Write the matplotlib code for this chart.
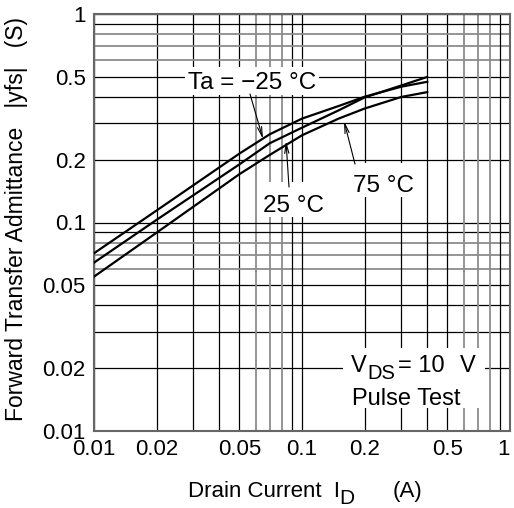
import matplotlib
matplotlib.use("Agg")
import matplotlib.pyplot as plt
from matplotlib.patches import Rectangle

plt.rcParams['font.family'] = ['Liberation Sans', 'DejaVu Sans']

# Data (drain current in A, |yfs| in S)
drain_current = [0.01, 0.02, 0.05, 0.07, 0.1, 0.15, 0.2, 0.3, 0.4]
yfs_m25 = [0.0712, 0.1142, 0.214, 0.265, 0.315, 0.362, 0.401, 0.448, 0.473]
yfs_25 = [0.0642, 0.103, 0.190, 0.240, 0.285, 0.345, 0.398, 0.454, 0.499]
yfs_75 = [0.0550, 0.0894, 0.1705, 0.211, 0.262, 0.315, 0.352, 0.400, 0.422]

tick_vals = [0.01, 0.02, 0.05, 0.1, 0.2, 0.5, 1]
tick_labels = ["0.01", "0.02", "0.05", "0.1", "0.2", "0.5", "1"]
grid_vals = [m * d for d in (0.01, 0.1) for m in range(1, 10)] + [1.0]

W, H = 514, 508
fig = plt.figure(figsize=(W / 100, H / 100), dpi=100)
ax = fig.add_axes([94 / W, 1 - 431 / H, 416 / W, 417 / H])
ax.set_xscale('log')
ax.set_yscale('log')
ax.set_xlim(0.01, 1)
ax.set_ylim(0.01, 1)


def px(x, y):
    return x / W, 1 - y / H


# grid: 6-8 multiples in gray, the rest black
for v in grid_vals:
    m = round(v / 10 ** int(f"{v:e}".split("e")[1]))
    col, lw = ('#8c8c8c', 1.3) if m in (6, 7, 8) else ('black', 0.9)
    ax.axvline(v, color=col, lw=lw, zorder=1)
    ax.axhline(v, color=col, lw=lw, zorder=1)

for s in ax.spines.values():
    s.set_color('#666666')
    s.set_linewidth(1.5)

ax.set_xticks(tick_vals)
ax.set_xticklabels(tick_labels)
ax.set_yticks(tick_vals)
ax.set_yticklabels(tick_labels)
ax.minorticks_off()
ax.tick_params(length=0, labelsize=16)
ax.tick_params(axis='x', pad=6)
ax.tick_params(axis='y', pad=6)
# keep the last "1" inside the canvas
ax.get_xticklabels()[-1].set_horizontalalignment('right')

# white boxes behind labels (break the grid lines)
boxes = [(185, 67, 134, 28), (259, 182, 68, 35), (347, 163, 70, 34), (343, 348, 142, 60)]
for bx, by, bw, bh in boxes:
    x0, y0 = px(bx, by + bh)
    ax.add_patch(Rectangle((x0, y0), bw / W, bh / H, transform=fig.transFigure,
                           facecolor='white', edgecolor='none', zorder=2, clip_on=False))

for vals in (yfs_m25, yfs_25, yfs_75):
    ax.plot(drain_current, vals, color='black', lw=1.6, zorder=3)

fs = 17.5
arrow = dict(arrowstyle='->,head_length=0.7,head_width=0.15', color='black', lw=0.8,
             shrinkA=0, shrinkB=0)
ax.annotate("", xy=px(263, 139), xycoords='figure fraction',
            xytext=px(250, 94), textcoords='figure fraction', arrowprops=arrow, zorder=4)
ax.annotate("", xy=px(286, 141), xycoords='figure fraction',
            xytext=px(289, 187), textcoords='figure fraction', arrowprops=arrow, zorder=4)
ax.annotate("", xy=px(344, 121), xycoords='figure fraction',
            xytext=px(355, 164), textcoords='figure fraction', arrowprops=arrow, zorder=4)

fig.text(*px(188, 89), "Ta = \u221225 \u00b0C", fontsize=fs, va='baseline', zorder=5)
fig.text(*px(263, 212), "25 \u00b0C", fontsize=fs, va='baseline', zorder=5)
fig.text(*px(353, 192), "75 \u00b0C", fontsize=fs, va='baseline', zorder=5)

fig.text(*px(351, 372), "V", fontsize=17, va='baseline')
fig.text(*px(367, 379), "DS", fontsize=14.5, va='baseline')
fig.text(*px(398, 372), "= 10", fontsize=17, va='baseline')
fig.text(*px(460, 372), "V", fontsize=17, va='baseline')
fig.text(*px(352, 405), "Pulse Test", fontsize=17, va='baseline')

# axis labels
fig.text(*px(188, 497), "Drain Current  I", fontsize=16, va='baseline')
fig.text(*px(339, 504), "D", fontsize=15, va='baseline')
fig.text(*px(393, 497), "(A)", fontsize=16, va='baseline')
fig.text(*px(17, 219), "Forward Transfer Admittance   |yfs|   (S)", fontsize=16.5,
         rotation=90, ha='center', va='center')

fig.savefig("out.png", dpi=100)
